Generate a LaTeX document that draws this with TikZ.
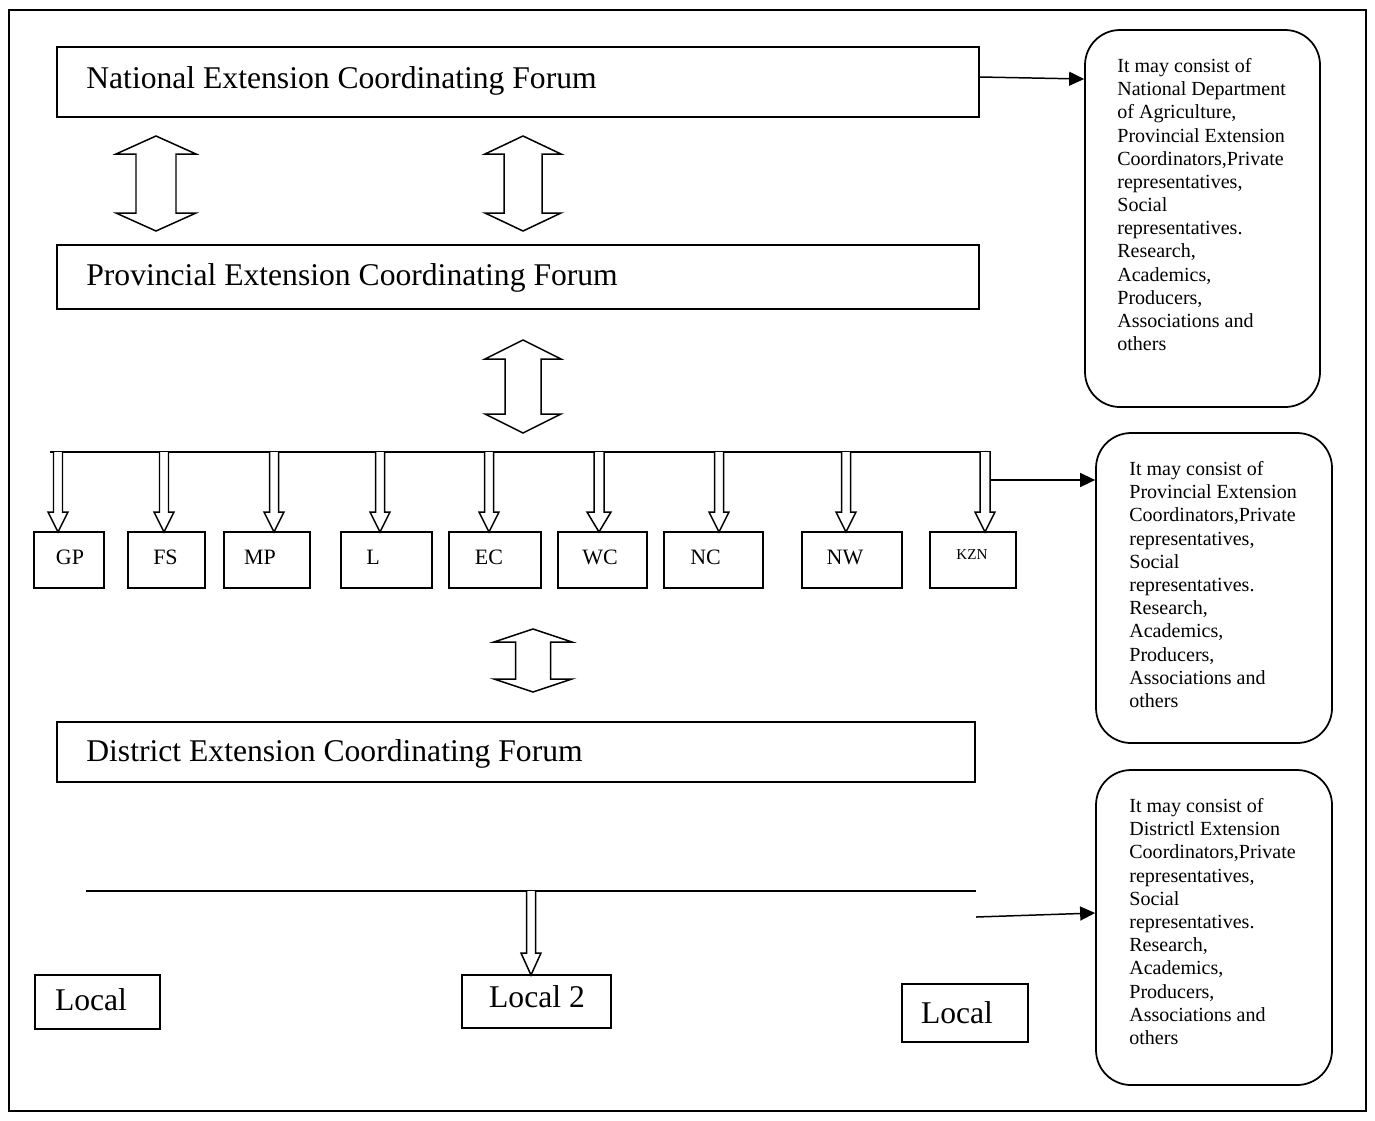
\documentclass[tikz,border=0pt]{standalone}
\usepackage{fontspec}
\setmainfont{Liberation Serif}
\usetikzlibrary{arrows.meta,calc}
\newcommand{\hollowdbl}[6]{%
  \draw[hollow] (#1,#2) -- (#1+#4,#2+#6) -- (#1+#5,#2+#6) -- (#1+#5,#3-#6) -- (#1+#4,#3-#6) -- (#1,#3) -- (#1-#4,#3-#6) -- (#1-#5,#3-#6) -- (#1-#5,#2+#6) -- (#1-#4,#2+#6) -- cycle;}
\newcommand{\hollowdn}[6]{%
  \draw[hollow] (#1-#5,#2) -- (#1-#5,#3-#6) -- (#1-#4,#3-#6) -- (#1,#3) -- (#1+#4,#3-#6) -- (#1+#5,#3-#6) -- (#1+#5,#2);}
\tikzset{
  box/.style 2 args={draw, line width=1pt, inner sep=0pt, minimum width=#1*0.02cm, minimum height=#2*0.02cm},
  rbox/.style 2 args={draw, line width=1pt, inner sep=0pt, rounded corners=0.7cm, minimum width=#1*0.02cm, minimum height=#2*0.02cm},
  bigtext/.style={inner sep=0pt, font=\fontsize{18}{22}\selectfont},
  lbl/.style={inner sep=0pt, font=\fontsize{12.5}{15}\selectfont},
  note/.style={inner sep=0pt, align=left, font=\fontsize{11.4}{13.2}\selectfont},
  hollow/.style={draw, fill=white, line width=0.85pt, line join=miter},
  conn/.style={line width=0.85pt, -{Triangle[length=0.3cm, width=0.28cm]}},
  rule/.style={line width=1pt}
}
\begin{document}
\begin{tikzpicture}[x=0.02cm, y=-0.02cm]
\useasboundingbox (0,0) rectangle (1375,1120);
\draw[line width=1.1pt] (9,10) rectangle (1366,1111);

% main forums
\node[box={922}{70}] (nat) at (518,82) {};
\node[bigtext, anchor=base west] (natt) at (86,88.5) {National Extension Coordinating Forum};
\node[box={922}{64}] (prov) at (518,277) {};
\node[bigtext, anchor=base west] (provt) at (86,285.5) {Provincial Extension Coordinating Forum};
\node[box={918}{60}] (dist) at (516,752) {};
\node[bigtext, anchor=base west] (distt) at (86,761.5) {District Extension Coordinating Forum};

% rounded notes
\node[rbox={235}{377}] (r1) at (1202.5,218.5) {};
\node[note, anchor=north west] (r1t) at (1117,58) {It may consist of\\National Department\\of Agriculture,\\Provincial Extension\\Coordinators,Private\\representatives,\\Social\\representatives.\\Research,\\Academics,\\Producers,\\Associations and\\others};
\node[rbox={236}{310}] (r2) at (1214,588) {};
\node[note, anchor=north west] (r2t) at (1129,461) {It may consist of\\Provincial Extension\\Coordinators,Private\\representatives,\\Social\\representatives.\\Research,\\Academics,\\Producers,\\Associations and\\others};
\node[rbox={236}{315}] (r3) at (1214,927.5) {};
\node[note, anchor=north west] (r3t) at (1129,798) {It may consist of\\Districtl Extension\\Coordinators,Private\\representatives,\\Social\\representatives.\\Research,\\Academics,\\Producers,\\Associations and\\others};

% provinces
\node[box={70}{56}] (gp) at (69,560) {};
\node[box={77}{56}] (fs) at (166.5,560) {};
\node[box={86}{56}] (mp) at (267,560) {};
\node[box={91}{56}] (lp) at (386.5,560) {};
\node[box={92}{56}] (ec) at (495,560) {};
\node[box={89}{56}] (wc) at (602.5,560) {};
\node[box={99}{56}] (nc) at (713.5,560) {};
\node[box={100}{56}] (nw) at (852,560) {};
\node[box={86}{56}] (kzn) at (973,560) {};
\node[lbl, anchor=base] (gpt) at (70,564) {GP};
\node[lbl, anchor=base] (fst) at (165.5,564) {FS};
\node[lbl, anchor=base] (mpt) at (260,564) {MP};
\node[lbl, anchor=base] (lpt) at (373,564) {L};
\node[lbl, anchor=base] (ect) at (489,564) {EC};
\node[lbl, anchor=base] (wct) at (600,564) {WC};
\node[lbl, anchor=base] (nct) at (705.5,564) {NC};
\node[lbl, anchor=base] (nwt) at (845,564) {NW};
\node[inner sep=0pt, font=\fontsize{8.6}{10}\selectfont, anchor=base] (kznt) at (972,559) {KZN};

% locals
\node[box={125}{54}] (loc1) at (97.5,1002) {};
\node[bigtext, anchor=base] (loc1t) at (91,1010.5) {Local};
\node[box={149}{53}] (loc2) at (536.5,1001.5) {};
\node[bigtext, anchor=base] (loc2t) at (537,1007.5) {Local 2};
\node[box={126}{58}] (loc3) at (965,1013) {};
\node[bigtext, anchor=base] (loc3t) at (957,1023.5) {Local};

% double hollow arrows
\hollowdbl{156}{136}{231}{40}{20}{18}
\hollowdbl{523}{136}{231}{38}{19}{18}
\hollowdbl{523}{340}{433}{38}{18}{19}
\hollowdbl{533}{629}{692}{39}{17.5}{13}

% branch line and down arrows
\coordinate (bl) at (50,452);
\coordinate (br) at (991,452);
\draw[rule] (bl) -- (br);
\hollowdn{58}{452}{532}{10}{4.5}{20}
\hollowdn{164}{452}{532}{10}{4.5}{20}
\hollowdn{274}{452}{532}{10}{4.5}{20}
\hollowdn{380}{452}{532}{10}{4.5}{20}
\hollowdn{489}{452}{532}{10}{4.5}{20}
\hollowdn{599}{452}{532}{12}{5}{20}
\hollowdn{719}{452}{532}{10}{4.5}{20}
\hollowdn{846}{452}{532}{10}{4.5}{20}
\hollowdn{985}{452}{532}{10}{5}{20}

% bottom line
\coordinate (dl) at (86,891);
\coordinate (dr) at (976,891);
\draw[rule] (dl) -- (dr);
\hollowdn{531}{891}{975}{10}{4.5}{22}

% connectors to notes
\draw[conn] ($(nat.east)+(0,-5)$) -- ($(nat.east -| r1.west)+(0,-3)$);
\coordinate (kzr) at (991,480);
\draw[conn] (kzr) -- (kzr -| r2.west);
\coordinate (dls) at (976,917);
\draw[conn] (dls) -- ($(r3.west)+(0,-14.5)$);
\end{tikzpicture}
\end{document}
